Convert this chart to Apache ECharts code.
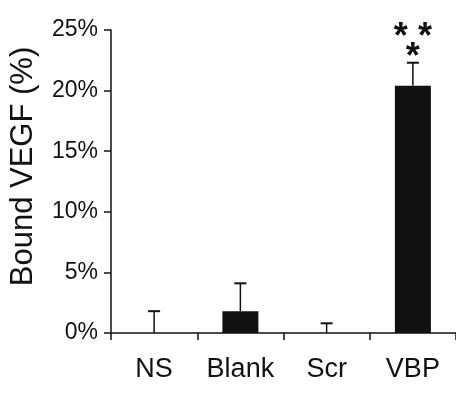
<!DOCTYPE html>
<html>
<head>
<meta charset="utf-8">
<script src="https://cdn.jsdelivr.net/npm/echarts@6/dist/echarts.min.js"></script>
<style>
  html, body { margin: 0; padding: 0; background: #fff; }
  #chart { width: 456px; height: 393px; }
</style>
</head>
<body>
<div id="chart"></div>
<script>
// values (percent)
const groups = ['NS', 'Blank', 'Scr', 'VBP'];
const boundVegf = [0, 1.8, 0, 20.4];
const errUpper = [1.8, 2.3, 0.8, 1.9];
const stars = ['', '', '', '* *\n*'];
const yTicks = [0, 5, 10, 15, 20, 25];

const font = '"Liberation Sans", Arial, sans-serif';

const chart = echarts.init(document.getElementById('chart'));

const option = {
  animation: false,
  grid: { left: 108, right: 0, top: 30, bottom: 60 },
  xAxis: {
    type: 'category',
    data: groups,
    axisLine: { lineStyle: { color: '#111', width: 1.5 } },
    axisTick: { show: true, length: 7, lineStyle: { color: '#111', width: 1.5 } },
    axisLabel: { color: '#111', fontSize: 27, fontFamily: font, margin: 23, interval: 0, hideOverlap: false }
  },
  yAxis: {
    type: 'value',
    min: yTicks[0],
    max: yTicks[yTicks.length - 1],
    interval: 5,
    name: 'Bound VEGF (%)',
    nameLocation: 'middle',
    nameRotate: 90,
    nameGap: 72,
    nameTextStyle: { color: '#111', fontSize: 31, fontFamily: font, padding: [0, 0, 0, 30] },
    axisLine: { show: true, lineStyle: { color: '#111', width: 1.5 } },
    axisTick: { show: true, length: 7, lineStyle: { color: '#111', width: 1.5 } },
    splitLine: { show: false },
    axisLabel: { color: '#111', fontSize: 23, fontFamily: font, margin: 13, formatter: '{value}%' }
  },
  series: [
    {
      type: 'bar',
      data: boundVegf,
      barWidth: 36,
      itemStyle: { color: '#111' }
    },
    {
      type: 'custom',
      data: groups.map((g, i) => [i, boundVegf[i], boundVegf[i] + errUpper[i]]),
      renderItem: function (params, api) {
        const base = api.coord([api.value(0), api.value(1)]);
        const top = api.coord([api.value(0), api.value(2)]);
        const half = 6;
        const children = [
          { type: 'line', shape: { x1: base[0], y1: base[1], x2: top[0], y2: top[1] },
            style: { stroke: '#111', lineWidth: 1.5 } },
          { type: 'line', shape: { x1: top[0] - half, y1: top[1], x2: top[0] + half, y2: top[1] },
            style: { stroke: '#111', lineWidth: 2 } }
        ];
        const s = stars[params.dataIndex];
        if (s) {
          children.push({
            type: 'text',
            style: {
              text: s, x: top[0], y: top[1] + 5,
              align: 'center', verticalAlign: 'bottom',
              fontSize: 36, fontWeight: 'bold', lineHeight: 20, fontFamily: font, fill: '#111'
            }
          });
        }
        return { type: 'group', children: children };
      },
      z: 3
    }
  ]
};

chart.setOption(option);
</script>
</body>
</html>
